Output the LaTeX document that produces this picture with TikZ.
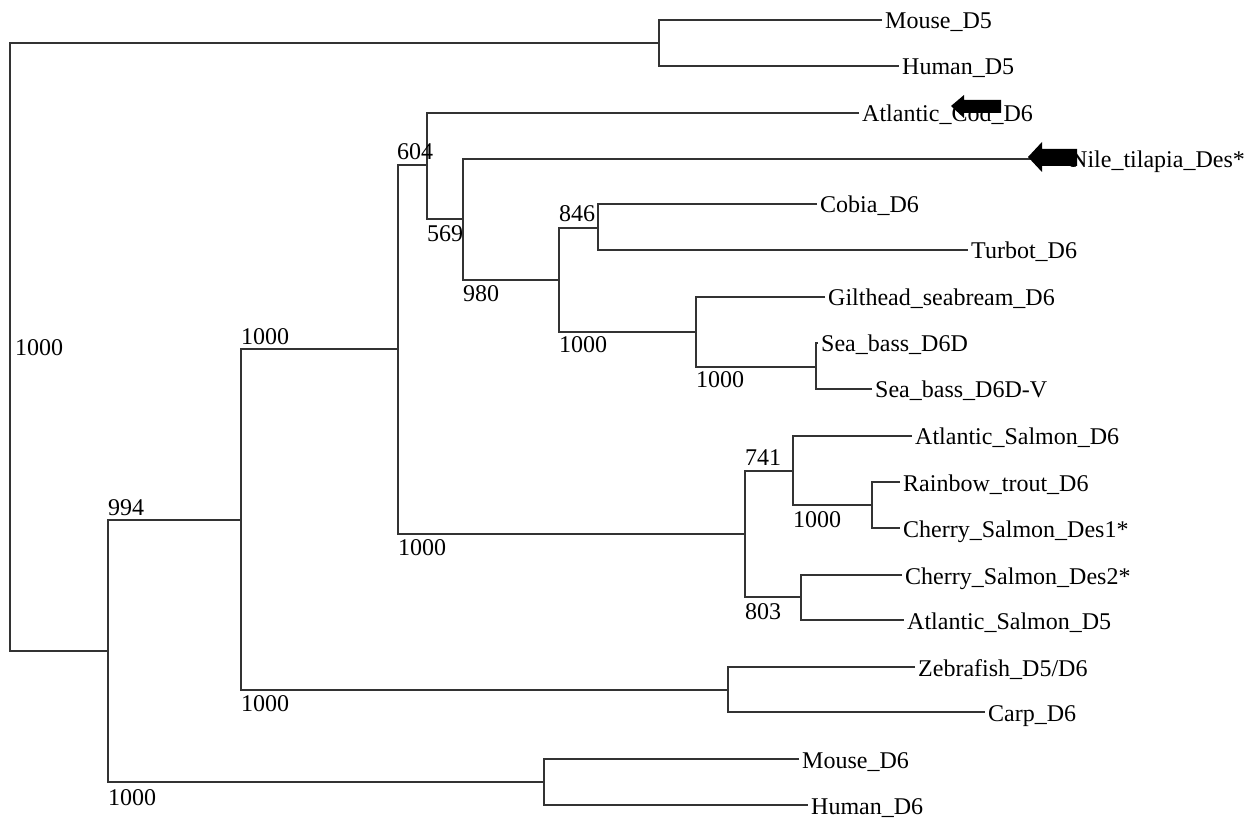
\documentclass[tikz,border=0pt]{standalone}
\usepackage{fontspec}
\setmainfont{Liberation Serif}
\begin{document}
\begin{tikzpicture}[x=1pt,y=-1pt,
  br/.style={draw=black!80,line width=1.3pt},
  leaf/.style={anchor=base west,inner sep=0pt,xshift=3pt,yshift=-9pt,font=\fontsize{24}{28}\selectfont},
  boot/.style={anchor=base west,inner sep=0pt,font=\fontsize{24}{28}\selectfont},
  marker/.style={fill=black,draw=none}]
\useasboundingbox (0,0) rectangle (1254,818);
% internal nodes (x of vertical line, y of stem)
\coordinate (R) at (10,347);
\coordinate (M5) at (659,43);
\coordinate (N994) at (108,651);
\coordinate (A1000) at (241,520);
\coordinate (B1000) at (398,349);
\coordinate (N604) at (427,165);
\coordinate (N569) at (463,219);
\coordinate (N980) at (559,280);
\coordinate (N846) at (598,228);
\coordinate (G1000) at (696,332);
\coordinate (SB) at (816,367);
\coordinate (SAL) at (745,534);
\coordinate (N741) at (793,471);
\coordinate (RT) at (872,505);
\coordinate (N803) at (801,597);
\coordinate (ZC) at (728,690);
\coordinate (MD6) at (544,782);
% tips
\coordinate (tMouseD5) at (882,20);
\coordinate (tHumanD5) at (899,66);
\coordinate (tCod) at (859,113);
\coordinate (tNile) at (1067,159);
\coordinate (tCobia) at (817,204);
\coordinate (tTurbot) at (968,250);
\coordinate (tGilt) at (825,297);
\coordinate (tSB) at (818,343);
\coordinate (tSBV) at (872,389);
\coordinate (tASD6) at (912,436);
\coordinate (tRain) at (900,482);
\coordinate (tDes1) at (900,528);
\coordinate (tDes2) at (902,575);
\coordinate (tASD5) at (904,620);
\coordinate (tZebra) at (915,667);
\coordinate (tCarp) at (985,712);
\coordinate (tMouseD6) at (799,759);
\coordinate (tHumanD6) at (808,805);
% leaf labels
\node[leaf] (MouseD5) at (tMouseD5) {Mouse\_D5};
\node[leaf] (HumanD5) at (tHumanD5) {Human\_D5};
\node[leaf] (Cod) at (tCod) {Atlantic\_Cod\_D6};
\node[leaf] (Nile) at (tNile) {Nile\_tilapia\_Des*};
\node[leaf] (Cobia) at (tCobia) {Cobia\_D6};
\node[leaf] (Turbot) at (tTurbot) {Turbot\_D6};
\node[leaf] (Gilt) at (tGilt) {Gilthead\_seabream\_D6};
\node[leaf] (SBD6D) at (tSB) {Sea\_bass\_D6D};
\node[leaf] (SBD6DV) at (tSBV) {Sea\_bass\_D6D-V};
\node[leaf] (ASD6) at (tASD6) {Atlantic\_Salmon\_D6};
\node[leaf] (Rain) at (tRain) {Rainbow\_trout\_D6};
\node[leaf] (Des1) at (tDes1) {Cherry\_Salmon\_Des1*};
\node[leaf] (Des2) at (tDes2) {Cherry\_Salmon\_Des2*};
\node[leaf] (ASD5) at (tASD5) {Atlantic\_Salmon\_D5};
\node[leaf] (Zebra) at (tZebra) {Zebrafish\_D5/D6};
\node[leaf] (Carp) at (tCarp) {Carp\_D6};
\node[leaf] (MouseD6) at (tMouseD6) {Mouse\_D6};
\node[leaf] (HumanD6) at (tHumanD6) {Human\_D6};
% branches
\draw[br] (M5) -| (R) |- (N994);
\draw[br] (tMouseD5) -| (M5) |- (tHumanD5);
\draw[br] (A1000) -| (N994) |- (MD6);
\draw[br] (B1000) -| (A1000) |- (ZC);
\draw[br] (N604) -| (B1000) |- (SAL);
\draw[br] (tCod) -| (N604) |- (N569);
\draw[br] (tNile) -| (N569) |- (N980);
\draw[br] (N846) -| (N980) |- (G1000);
\draw[br] (tCobia) -| (N846) |- (tTurbot);
\draw[br] (tGilt) -| (G1000) |- (SB);
\draw[br] (tSB) -| (SB) |- (tSBV);
\draw[br] (N741) -| (SAL) |- (N803);
\draw[br] (tASD6) -| (N741) |- (RT);
\draw[br] (tRain) -| (RT) |- (tDes1);
\draw[br] (tDes2) -| (N803) |- (tASD5);
\draw[br] (tZebra) -| (ZC) |- (tCarp);
\draw[br] (tMouseD6) -| (MD6) |- (tHumanD6);
% bootstrap values
\node[boot] (bR) at (15,356) {1000};
\node[boot] (b994) at (108,515) {994};
\node[boot] (bB) at (241,345) {1000};
\node[boot] (bSAL) at (398,555) {1000};
\node[boot] (b604) at (397,160) {604};
\node[boot] (b569) at (427,242) {569};
\node[boot] (b980) at (463,302) {980};
\node[boot] (b846) at (559,222) {846};
\node[boot] (bG) at (559,353) {1000};
\node[boot] (bSB) at (696,388) {1000};
\node[boot] (b741) at (745,465) {741};
\node[boot] (bRT) at (793,527) {1000};
\node[boot] (b803) at (745,619) {803};
\node[boot] (bZC) at (241,711) {1000};
\node[boot] (bMD6) at (108,805) {1000};
% arrow markers
\fill[marker] (951,106) -- (964,95) -- (964,100) -- (1001,100) -- (1001,113) -- (964,113) -- (964,118) -- cycle;
\fill[marker] (1028,157) -- (1042,142) -- (1042,149) -- (1077,149) -- (1077,166) -- (1042,166) -- (1042,172) -- cycle;
\end{tikzpicture}
\end{document}
